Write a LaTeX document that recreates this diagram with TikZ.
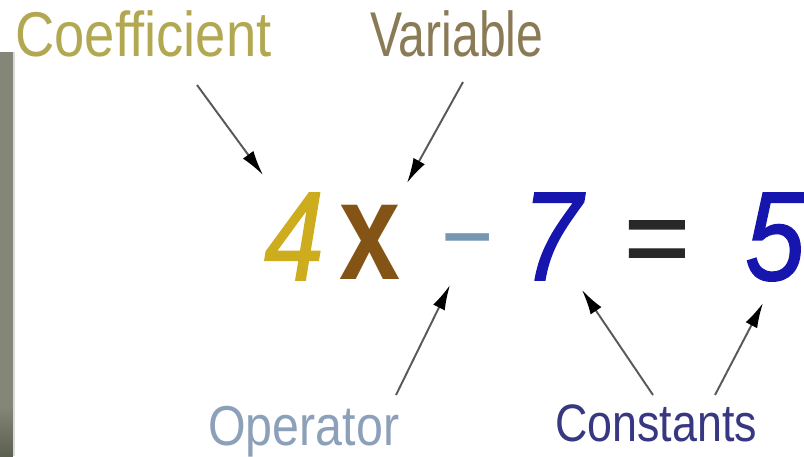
\documentclass[tikz,border=0pt]{standalone}
\usepackage{fontspec}
\setmainfont{Liberation Sans}
\newfontfamily\eqfont[FakeBold=1.2]{Liberation Sans}
\usepackage{graphicx}
\usepackage{tikz}
\usetikzlibrary{arrows.meta}
\definecolor{coefyellow}{RGB}{178,168,82}
\definecolor{varbrown}{RGB}{138,122,86}
\definecolor{opgrey}{RGB}{140,160,185}
\definecolor{constnavy}{RGB}{55,55,130}
\definecolor{digitgold}{RGB}{205,172,30}
\definecolor{xbrown}{RGB}{132,84,22}
\definecolor{minusblue}{RGB}{118,150,178}
\definecolor{digitblue}{RGB}{22,22,175}
\definecolor{eqgrey}{RGB}{40,40,40}
\definecolor{barolive}{RGB}{132,134,120}
\definecolor{bardark}{RGB}{92,96,80}
\newcommand{\squash}[2]{\scalebox{#1}[1]{#2}}

\begin{document}
\begin{tikzpicture}[
  lbl/.style={anchor=base west, inner sep=0pt},
  glyph/.style={anchor=base, inner sep=0pt, font=\fontsize{72}{72}\selectfont\eqfont\itshape},
  arrow/.style={-{Latex[length=0.5cm, width=0.26cm, color=black]}, line width=1.1pt, black!65}
]
% canvas
\fill[white] (0,0) rectangle (16.08,9.12);
\useasboundingbox (0,0) rectangle (16.08,9.12);

% grey strip on the left
\fill[barolive] (0,1.0) rectangle (0.26,8.08);
\shade[top color=barolive, bottom color=bardark] (0,0) rectangle (0.26,1.0);
\fill[black!15] (0.26,0) rectangle (0.30,8.08);

% labels
\node[lbl, coefyellow, font=\fontsize{36}{40}\selectfont] (coef) at (0.30,7.98) {\squash{0.86}{Coefficient}};
\node[lbl, varbrown, font=\fontsize{36}{40}\selectfont] (var) at (7.40,7.98) {\squash{0.76}{Variable}};
\node[lbl, opgrey, font=\fontsize{32}{36}\selectfont] (op) at (4.16,0.22) {\squash{0.86}{Operator}};
\node[lbl, constnavy, font=\fontsize{30}{34}\selectfont] (const) at (11.10,0.30) {\squash{0.85}{Constants}};

% the equation 4x - 7 = 5
\node[glyph, digitgold] (four) at (5.88,3.52) {\squash{0.85}{4}};
\node[glyph, xbrown, font=\fontsize{80}{80}\selectfont\bfseries] (ex) at (7.40,3.52) {\squash{0.78}{x}};
\node[glyph, minusblue, font=\fontsize{60}{60}\selectfont] (minus) at (9.36,3.66) {\squash{0.85}{−}};
\node[glyph, digitblue] (seven) at (11.04,3.52) {\squash{0.85}{7}};
\node[glyph, eqgrey, font=\fontsize{64}{64}\selectfont\eqfont] (eq) at (13.14,3.60) {=};
\node[glyph, digitblue] (five) at (15.50,3.52) {\squash{0.85}{5}};

% arrow ends
\coordinate (coefTail) at (3.94,7.42);
\coordinate (coefTip) at (5.26,5.62);
\coordinate (varTail) at (9.26,7.48);
\coordinate (varTip) at (8.14,5.46);
\coordinate (opTail) at (7.92,1.22);
\coordinate (opTip) at (9.00,3.42);
\coordinate (sevenTail) at (13.06,1.22);
\coordinate (sevenTip) at (11.64,3.32);
\coordinate (fiveTail) at (14.30,1.22);
\coordinate (fiveTip) at (15.26,3.06);

\draw[arrow] (coefTail) -- (coefTip);
\draw[arrow] (varTail) -- (varTip);
\draw[arrow] (opTail) -- (opTip);
\draw[arrow] (sevenTail) -- (sevenTip);
\draw[arrow] (fiveTail) -- (fiveTip);

\end{tikzpicture}
\end{document}
